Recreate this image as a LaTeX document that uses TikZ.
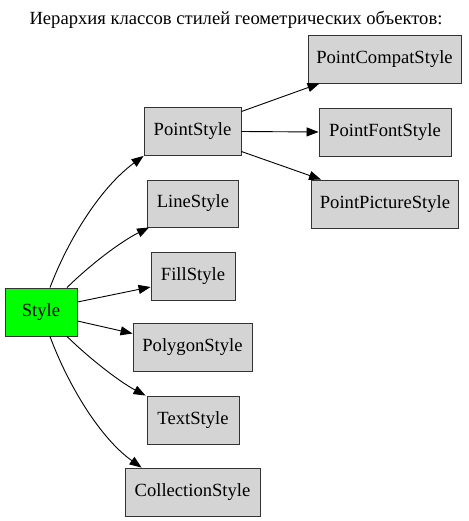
\documentclass[tikz,border=0pt]{standalone}
\usepackage{fontspec}
\setmainfont{Liberation Serif}
\usetikzlibrary{arrows.meta}
\begin{document}
\begin{tikzpicture}[x=1pt,y=-1pt,
  cls/.style={draw=black!80, line width=0.9pt, fill=black!17, inner sep=0pt, font=\fontsize{18.6}{20}\selectfont},
  edge/.style={line width=0.9pt, -{Triangle[length=12pt,width=9pt]}}]
\useasboundingbox (0,0) rectangle (468,521);
\node[font=\fontsize{18.6}{20}\selectfont] (title) at (236,20) {Иерархия классов стилей геометрических объектов:};
\node[cls, fill=green, minimum width=72pt, minimum height=48pt] (style) at (41,312) {Style};
\node[cls, minimum width=97pt, minimum height=48pt] (point) at (192.5,131.5) {PointStyle};
\node[cls, minimum width=91pt, minimum height=47pt] (line) at (193,203.5) {LineStyle};
\node[cls, minimum width=84pt, minimum height=48pt] (fill) at (193,276) {FillStyle};
\node[cls, minimum width=119pt, minimum height=48pt] (poly) at (192.5,347.5) {PolygonStyle};
\node[cls, minimum width=92pt, minimum height=48pt] (text) at (193,420) {TextStyle};
\node[cls, minimum width=135pt, minimum height=48pt] (coll) at (192.5,492) {CollectionStyle};
\node[cls, minimum width=153pt, minimum height=48pt] (pcompat) at (384.5,59) {PointCompatStyle};
\node[cls, minimum width=132pt, minimum height=48pt] (pfont) at (385,132) {PointFontStyle};
\node[cls, minimum width=147pt, minimum height=48pt] (ppict) at (385,204) {PointPictureStyle};

\draw[edge] ([xshift=9pt]style.north) .. controls (68,240) and (100,188) .. (point.south west);
\draw[edge] ([xshift=26pt]style.north) .. controls (90,265) and (120,242) .. ([xshift=2pt]line.south west);
\draw[edge] ([yshift=10pt]style.east) -- ([yshift=-11pt]fill.west);
\draw[edge] ([yshift=-9pt]style.east) -- ([yshift=14pt]poly.west);
\draw[edge] ([xshift=26pt]style.south) .. controls (90,359) and (120,382) .. ([xshift=-1pt]text.north west);
\draw[edge] ([xshift=9pt]style.south) .. controls (68,385) and (100,438) .. ([xshift=17pt]coll.north west);
\draw[edge] ([yshift=20pt]point.east) -- ([xshift=12pt]pcompat.south west);
\draw[edge] (point.east) -- (pfont.west);
\draw[edge] ([yshift=-20pt]point.east) -- ([xshift=10pt]ppict.north west);
\end{tikzpicture}
\end{document}
